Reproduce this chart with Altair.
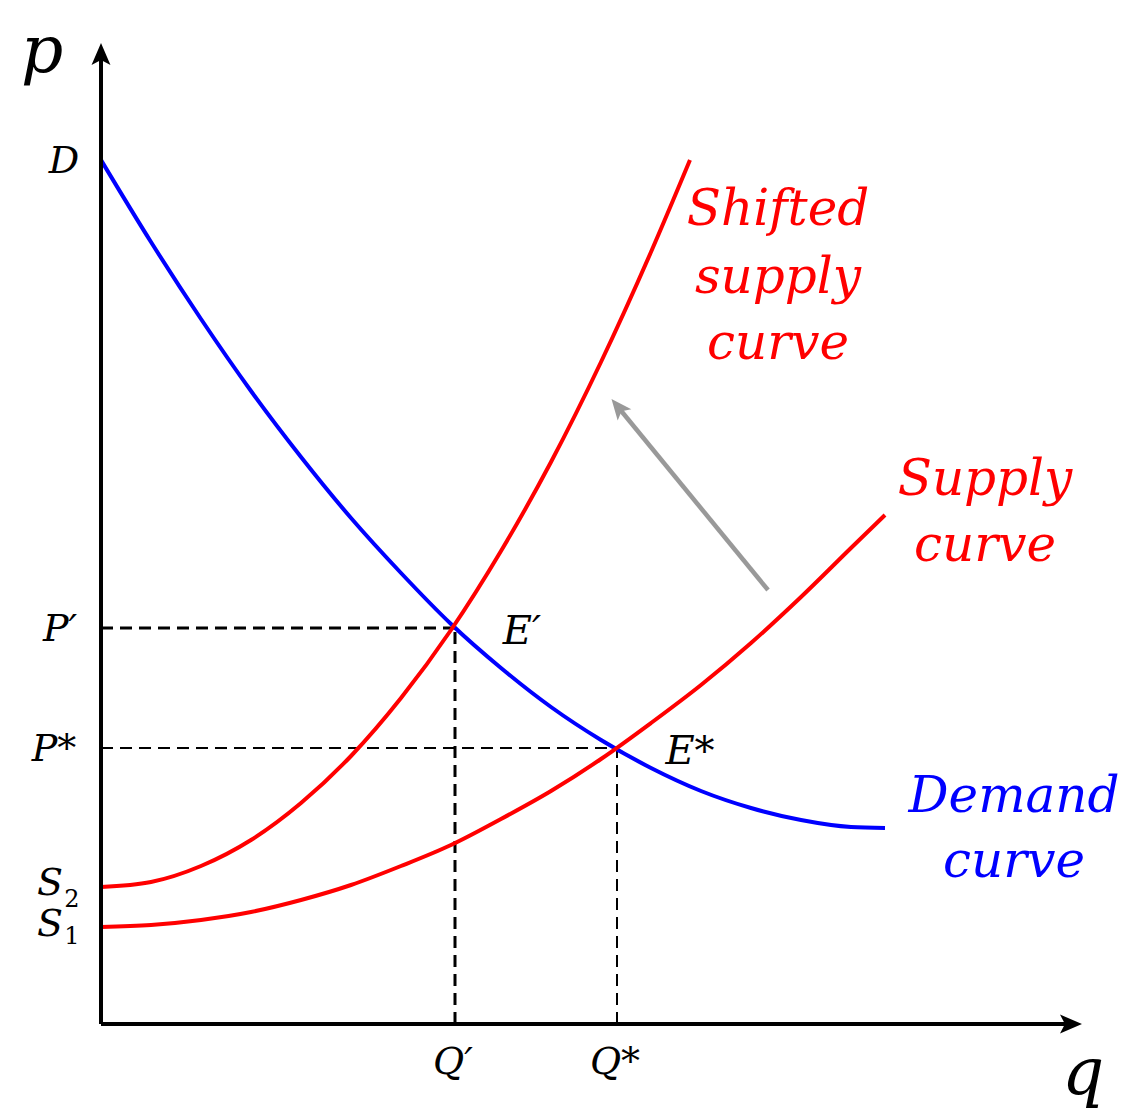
import altair as alt
import pandas as pd

# ---- data (q, p in chart units) ----
demand_q = [0, 0.5, 1, 1.5, 2, 2.5, 3, 3.5, 4, 4.5, 5, 5.5, 6, 6.5, 7, 7.5, 7.84]
demand_p = [8.64, 7.82, 7.05, 6.33, 5.67, 5.06, 4.51, 4.00, 3.56, 3.17, 2.84, 2.56, 2.33, 2.16, 2.04, 1.97, 1.96]

supply_q = [0, 0.5, 1, 1.5, 2, 2.5, 3, 3.5, 4, 4.5, 5, 5.5, 6, 6.5, 7, 7.5, 7.84]
supply_p = [0.97, 0.99, 1.04, 1.12, 1.24, 1.39, 1.58, 1.79, 2.05, 2.33, 2.65, 3.01, 3.39, 3.81, 4.27, 4.76, 5.09]

shifted_q = [0, 0.5, 1, 1.5, 2, 2.5, 3, 3.5, 4, 4.5, 5, 5.5, 5.89]
shifted_p = [1.37, 1.42, 1.58, 1.84, 2.21, 2.68, 3.26, 3.94, 4.73, 5.62, 6.62, 7.72, 8.64]

eq_names = ["E'", "E*"]
eq_q = [3.54, 5.16]
eq_p = [3.96, 2.76]
eq_width = [3, 2]

shift_arrow_from = (6.67, 4.34)
shift_arrow_to = (5.17, 6.17)

x_max = 9.81
y_max = 9.81

label_text = ["p", "q", "D", "P\u2032", "P*", "S", "S", "E\u2032", "E*", "Q\u2032", "Q*",
              "Shifted", "supply", "curve", "Supply", "curve", "Demand", "curve"]
label_x = [-0.59, 9.82, -0.37, -0.41, -0.47, -0.51, -0.51, 4.21, 5.89, 3.52, 5.14,
           6.77, 6.77, 6.77, 8.84, 8.84, 9.13, 9.13]
label_y = [9.72, -0.50, 8.62, 3.94, 2.74, 1.40, 0.99, 3.92, 2.72, -0.39, -0.39,
           8.14, 7.46, 6.80, 5.44, 4.78, 2.27, 1.62]
label_size = [66, 66, 38, 38, 38, 38, 38, 40, 40, 38, 38,
              50, 50, 50, 50, 50, 50, 50]
label_color = ["black"] * 11 + ["#ff0000"] * 5 + ["#0000ff"] * 2

sub_text = ["2", "1"]
sub_x = [-0.29, -0.29]
sub_y = [1.24, 0.87]

# ---- tables ----
curves = pd.concat([
    pd.DataFrame({"q": demand_q, "p": demand_p, "s": "Demand"}),
    pd.DataFrame({"q": supply_q, "p": supply_p, "s": "Supply"}),
    pd.DataFrame({"q": shifted_q, "p": shifted_p, "s": "Shifted"}),
])
eq = pd.DataFrame({"name": eq_names, "q": eq_q, "p": eq_p, "w": eq_width, "zero": 0.0})
axes_df = pd.DataFrame({"x": [0, 0], "y": [0, 0], "x2": [x_max - 0.1, 0], "y2": [0, y_max - 0.1]})
heads = pd.DataFrame({"x": [x_max - 0.11, 0], "y": [0, y_max - 0.11], "a": [90, 0]})
shift_df = pd.DataFrame({"x": [shift_arrow_from[0]], "y": [shift_arrow_from[1]],
                         "x2": [shift_arrow_to[0]], "y2": [shift_arrow_to[1]], "a": [320.6]})
labels = pd.DataFrame({"t": label_text, "x": label_x, "y": label_y, "fs": label_size, "c": label_color})
subs = pd.DataFrame({"t": sub_text, "x": sub_x, "y": sub_y})

xs = alt.Scale(domain=[0, x_max], nice=False, zero=False)
ys = alt.Scale(domain=[0, y_max], nice=False, zero=False)
X = lambda f: alt.X(f, type="quantitative", scale=xs, axis=None)
Y = lambda f: alt.Y(f, type="quantitative", scale=ys, axis=None)

arrow_path = "M0,-1L0.86,1L0,0.55L-0.86,1Z"

h_dash = alt.Chart(eq).mark_rule(color="black", strokeDash=[12, 7]).encode(
    x=X("zero"), x2="q", y=Y("p"), strokeWidth=alt.StrokeWidth("w:Q", scale=None))
v_dash = alt.Chart(eq).mark_rule(color="black", strokeDash=[12, 7]).encode(
    x=X("q"), y=Y("zero"), y2="p", strokeWidth=alt.StrokeWidth("w:Q", scale=None))

lines = alt.Chart(curves).mark_line(strokeWidth=4, interpolate="monotone").encode(
    x=X("q"), y=Y("p"), detail="s:N",
    color=alt.Color("s:N", scale=alt.Scale(domain=["Demand", "Supply", "Shifted"],
                                           range=["#0000ff", "#ff0000", "#ff0000"]), legend=None))

axis_lines = alt.Chart(axes_df).mark_rule(color="black", strokeWidth=4).encode(
    x=X("x"), y=Y("y"), x2="x2", y2="y2")
axis_heads = alt.Chart(heads).mark_point(shape=arrow_path, filled=True, color="black",
                                         size=484, opacity=1).encode(
    x=X("x"), y=Y("y"), angle=alt.Angle("a:Q", scale=None))

shift_line = alt.Chart(shift_df).mark_rule(color="#999999", strokeWidth=4.5).encode(
    x=X("x"), y=Y("y"), x2="x2", y2="y2")
shift_head = alt.Chart(shift_df).mark_point(shape=arrow_path, filled=True, color="#999999",
                                            size=420, opacity=1).encode(
    x=X("x2"), y=Y("y2"), angle=alt.Angle("a:Q", scale=None))

text = alt.Chart(labels).mark_text(font="DejaVu Serif", fontStyle="italic", baseline="middle",
                                   align="center").encode(
    x=X("x"), y=Y("y"), text="t:N",
    size=alt.Size("fs:Q", scale=None),
    color=alt.Color("c:N", scale=None))

sub_marks = alt.Chart(subs).mark_text(font="DejaVu Serif", fontSize=24, baseline="middle",
                                      align="center", color="black").encode(
    x=X("x"), y=Y("y"), text="t:N")

chart = alt.layer(h_dash, v_dash, lines, shift_line, shift_head, axis_lines, axis_heads,
                  text, sub_marks).properties(
    width=981, height=981,
    autosize=alt.AutoSizeParams(type="none"),
    padding={"left": 93, "top": 35, "right": 37, "bottom": 85},
).configure_view(stroke=None)

chart.save("out.html", embed_options={"renderer": "svg", "actions": False})
